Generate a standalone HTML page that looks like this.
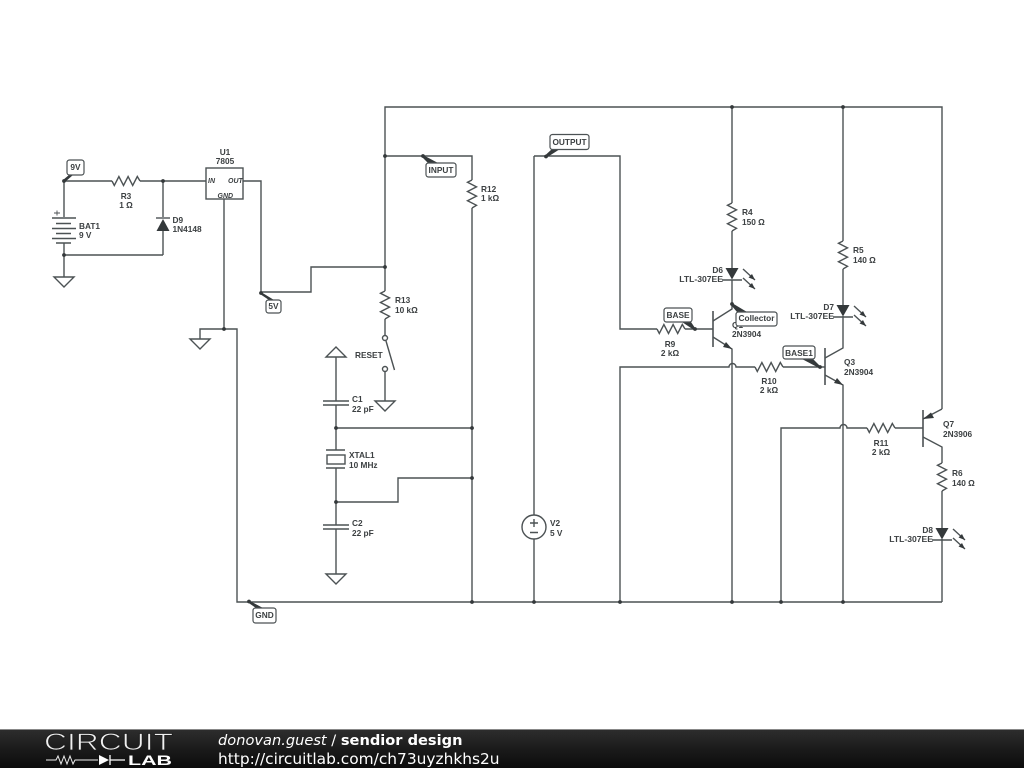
<!DOCTYPE html>
<html><head><meta charset="utf-8"><style>
html,body{margin:0;padding:0;background:#fff;width:1024px;height:768px;overflow:hidden}
svg{position:absolute;left:0;top:0;filter:blur(0.35px)}
.w{fill:none;stroke:#4c5254;stroke-width:1.4}
.t{font:bold 8.3px "Liberation Sans",sans-serif;fill:#3c4042}
.tag{fill:#fff;stroke:#4c5254;stroke-width:1.2}
.f{font-family:"DejaVu Sans",sans-serif;font-size:14.6px;fill:#fff}
</style></head><body>
<svg width="1024" height="768" viewBox="0 0 1024 768" xmlns="http://www.w3.org/2000/svg">
<defs>
<polyline id="rh" class="w" points="0,0 2.3,4.5 6.9,-4.5 11.5,4.5 16.1,-4.5 20.7,4.5 25.3,-4.5 28,0"/>
<polyline id="rv" class="w" points="0,0 -4.5,2.3 4.5,6.9 -4.5,11.5 4.5,16.1 -4.5,20.7 4.5,25.3 0,28"/>
<polygon id="gd" class="w" points="-10,0 10,0 0,10" style="fill:#fff"/>
<polygon id="gu" class="w" points="-10,10 10,10 0,0" style="fill:#fff"/>
<g id="led">
<polygon points="-6.500,-12 6.500,-12 0,-0.5" fill="#34393b"/>
<line class="w" x1="-10" y1="0" x2="10" y2="0"/>
<path class="w" d="M11,-11 L23,0 M11,-2 L23,9"/>
<path d="M23,0 L16.500,-2.500 L20,-6 Z M23,9 L16.500,6.500 L20,3 Z" fill="#34393b"/>
</g>
</defs>
<rect x="0" y="0" width="1024" height="768" fill="#fff"/>

<!-- wires -->
<path class="w" d="M64,181H112 M140,181H206 M163,181V217 M163,231V255 M64,255H163 M64,181V217 M64,243V277"/>
<path class="w" d="M243,181H261V292H311V267H385 M224,199V329 M200,339V329H237V602H942"/>
<path class="w" d="M385,291V107H942V409 M385,156H472V180 M472,208V602 M385,319V336 M385,371V401"/>
<path class="w" d="M336,357V401 M336,405V450 M336,468V525 M336,529V574 M336,428H472 M336,502H398V478H472"/>
<path class="w" d="M534,156V515 M534,539V602 M534,156H620V329H657 M685,329H713"/>
<path class="w" d="M620,602V367H729 A3.500,3.500 0 0 1 736,367 H755 M783,367H825"/>
<path class="w" d="M732,107V203 M732,231V268 M732,280V309 L713,321 M713,337L732,349V602"/>
<path class="w" d="M843,107V241 M843,269V305 M843,316V348 L825,358 M825,375L843,385V602"/>
<path class="w" d="M781,602V428H840 A3.500,3.500 0 0 1 847,428 H867 M895,428H923 M942,409L923,419 M923,437L942,447V463 M942,491V528 M942,539V602"/>
<path class="w" d="M713,311V347 M825,348V385 M923,410V447" style="stroke-width:1.6"/>
<path d="M732,349L723,347L726,342Z M843,385L834,383L837,378Z M923,419L931,412.500L934,418Z" fill="#34393b"/>

<!-- resistors -->
<use href="#rh" x="112" y="181"/><use href="#rh" x="657" y="329"/><use href="#rh" x="755" y="367"/><use href="#rh" x="867" y="428"/>
<use href="#rv" x="472" y="180"/><use href="#rv" x="385" y="291"/><use href="#rv" x="732" y="203"/><use href="#rv" x="843" y="241"/><use href="#rv" x="942" y="463"/>

<!-- battery -->
<path class="w" d="M52,218H76 M56,223.500H71 M52,228.500H76 M56,233.500H71 M52,238.500H76 M56,243H71"/>
<path class="w" d="M54,213H60 M57,210.500V215.500" style="stroke-width:.9"/>

<!-- diode -->
<line class="w" x1="156" y1="218" x2="170" y2="218"/>
<polygon points="163,219 156.500,231 169.500,231" fill="#34393b"/>

<!-- U1 -->
<rect class="w" x="206" y="168" width="37" height="31" fill="#fff"/>

<!-- grounds -->
<use href="#gd" x="64" y="277"/><use href="#gd" x="200" y="339"/><use href="#gd" x="385" y="401"/><use href="#gd" x="336" y="574"/><use href="#gu" x="336" y="347"/>

<!-- switch -->
<circle class="w" cx="385" cy="338" r="2.500" fill="#fff"/><circle class="w" cx="385" cy="369" r="2.500" fill="#fff"/>
<line class="w" x1="386" y1="341" x2="394.500" y2="370"/>

<!-- caps and crystal -->
<path class="w" d="M323,401H349 M323,405H349 M323,525H349 M323,529H349 M326,450H345 M326,468H345"/>
<rect class="w" x="327" y="455" width="18" height="9" fill="#fff"/>

<!-- V2 -->
<circle class="w" cx="534" cy="527" r="12" fill="#fff"/>
<path class="w" d="M530,523H538 M534,519V527 M530,532.500H538"/>

<!-- LEDs -->
<use href="#led" x="732" y="280"/><use href="#led" x="843" y="317"/><use href="#led" x="942" y="540"/>

<!-- junctions -->
<g fill="#34393b">
<circle cx="163" cy="181" r="1.900"/><circle cx="64" cy="255" r="1.900"/><circle cx="224" cy="329" r="1.900"/>
<circle cx="385" cy="156" r="1.900"/><circle cx="385" cy="267" r="1.900"/><circle cx="732" cy="107" r="1.900"/><circle cx="843" cy="107" r="1.900"/>
<circle cx="336" cy="428" r="1.900"/><circle cx="336" cy="502" r="1.900"/><circle cx="472" cy="428" r="1.900"/><circle cx="472" cy="478" r="1.900"/>
<circle cx="472" cy="602" r="1.900"/><circle cx="534" cy="602" r="1.900"/><circle cx="620" cy="602" r="1.900"/><circle cx="732" cy="602" r="1.900"/><circle cx="781" cy="602" r="1.900"/><circle cx="843" cy="602" r="1.900"/>
</g>

<!-- component labels -->
<g class="t">
<text x="225" y="155" text-anchor="middle">U1</text><text x="225" y="164" text-anchor="middle">7805</text>
<text x="126" y="199" text-anchor="middle">R3</text><text x="126" y="208" text-anchor="middle">1 Ω</text>
<text x="172.500" y="223">D9</text><text x="172.500" y="232">1N4148</text>
<text x="79" y="229">BAT1</text><text x="79" y="238">9 V</text>
<text x="481" y="192">R12</text><text x="481" y="201">1 kΩ</text>
<text x="395" y="303">R13</text><text x="395" y="313">10 kΩ</text>
<text x="355" y="358">RESET</text>
<text x="352" y="402">C1</text><text x="352" y="412">22 pF</text>
<text x="349" y="458">XTAL1</text><text x="349" y="468">10 MHz</text>
<text x="352" y="526">C2</text><text x="352" y="536">22 pF</text>
<text x="550" y="526">V2</text><text x="550" y="536">5 V</text>
<text x="742" y="215">R4</text><text x="742" y="225">150 Ω</text>
<text x="853" y="253">R5</text><text x="853" y="263">140 Ω</text>
<text x="723" y="273" text-anchor="end">D6</text><text x="723" y="282" text-anchor="end" style="font-size:8.6px">LTL-307EE</text>
<text x="834" y="310" text-anchor="end">D7</text><text x="834" y="319" text-anchor="end" style="font-size:8.6px">LTL-307EE</text>
<text x="933" y="533" text-anchor="end">D8</text><text x="933" y="542" text-anchor="end" style="font-size:8.6px">LTL-307EE</text>
<text x="732" y="328">Q1</text><text x="732" y="337">2N3904</text>
<text x="844" y="365">Q3</text><text x="844" y="375">2N3904</text>
<text x="943" y="427">Q7</text><text x="943" y="437">2N3906</text>
<text x="670" y="347" text-anchor="middle">R9</text><text x="670" y="356" text-anchor="middle">2 kΩ</text>
<text x="769" y="384" text-anchor="middle">R10</text><text x="769" y="393" text-anchor="middle">2 kΩ</text>
<text x="881" y="446" text-anchor="middle">R11</text><text x="881" y="455" text-anchor="middle">2 kΩ</text>
<text x="952" y="476">R6</text><text x="952" y="486">140 Ω</text>
</g>
<g style="font:italic bold 7px 'Liberation Sans',sans-serif;fill:#3c4042">
<text x="208" y="183">IN</text><text x="228" y="183">OUT</text><text x="217.500" y="198">GND</text>
</g>

<!-- net tags -->
<g fill="#34393b">
<circle cx="64" cy="181" r="1.900"/><polygon points="63,180 65,182 73,175 69,175"/>
<circle cx="261" cy="293" r="1.900"/><polygon points="261,292 260,294 269,300 274,300"/>
<circle cx="423" cy="156" r="1.900"/><polygon points="423,155 422,157 428,163 438,163"/>
<circle cx="546" cy="156.500" r="1.900"/><polygon points="545,155.500 546,158 560,149 552,149"/>
<circle cx="249" cy="601.500" r="1.900"/><polygon points="249,600.500 248,602.500 256,608 263,608"/>
<circle cx="695" cy="329" r="1.900"/><polygon points="695,328 694,330 682,322 691,322"/>
<circle cx="732" cy="304" r="1.900"/><polygon points="732,303 731,305 737,312 747,312"/>
<circle cx="820" cy="367" r="1.900"/><polygon points="820,366 819,368 802,359 813,359"/>
</g>
<rect class="tag" x="67" y="160" width="17" height="15" rx="2.500"/>
<rect class="tag" x="266" y="300" width="15" height="13" rx="2.500"/>
<rect class="tag" x="426" y="163" width="30" height="14" rx="2.500"/>
<rect class="tag" x="550" y="134.500" width="39" height="15" rx="2.500"/>
<rect class="tag" x="253" y="608" width="23" height="15" rx="2.500"/>
<rect class="tag" x="664" y="308" width="28" height="14" rx="2.500"/>
<rect class="tag" x="736" y="312" width="41" height="14" rx="2.500"/>
<rect class="tag" x="783" y="346" width="32" height="13" rx="2.500"/>
<g class="t" text-anchor="middle">
<text x="75.500" y="170">9V</text><text x="273.500" y="309">5V</text><text x="441" y="173">INPUT</text><text x="569.500" y="145">OUTPUT</text><text x="264.500" y="618">GND</text><text x="678" y="318">BASE</text><text x="756.500" y="321">Collector</text><text x="799" y="356">BASE1</text>
</g>

<!-- footer -->
<defs><linearGradient id="fg" x1="0" y1="0" x2="0" y2="1"><stop offset="0" stop-color="#2e2e2e"/><stop offset=".5" stop-color="#1b1b1b"/><stop offset="1" stop-color="#0c0c0c"/></linearGradient></defs>
<rect x="0" y="729" width="1024" height="39" fill="url(#fg)"/>
<rect x="0" y="729" width="1024" height="1" fill="#888"/>
<text x="44" y="750" style="font:24px 'Liberation Sans',sans-serif;fill:#f0f0f0;stroke:#1f1f1f;stroke-width:.8" textLength="129" lengthAdjust="spacingAndGlyphs">CIRCUIT</text>
<path d="M46,760H56 L58,756 61,764 64,756 67,764 70,756 73,764 75,760H98" fill="none" stroke="#eee" stroke-width="1"/>
<path d="M99,755V765L109,760Z" fill="#fff"/><path d="M110,755V765 M110,760H125" fill="none" stroke="#fff" stroke-width="1.300"/>
<text x="128" y="765" style="font:bold 14px 'Liberation Sans',sans-serif;fill:#fff" textLength="44" lengthAdjust="spacingAndGlyphs">LAB</text>
<text class="f" x="218" y="745"><tspan font-style="italic">donovan.guest</tspan> / <tspan font-weight="bold">sendior design</tspan></text>
<text class="f" x="218" y="764" style="font-size:15.4px">http://circuitlab.com/ch73uyzhkhs2u</text>
</svg>
</body></html>
